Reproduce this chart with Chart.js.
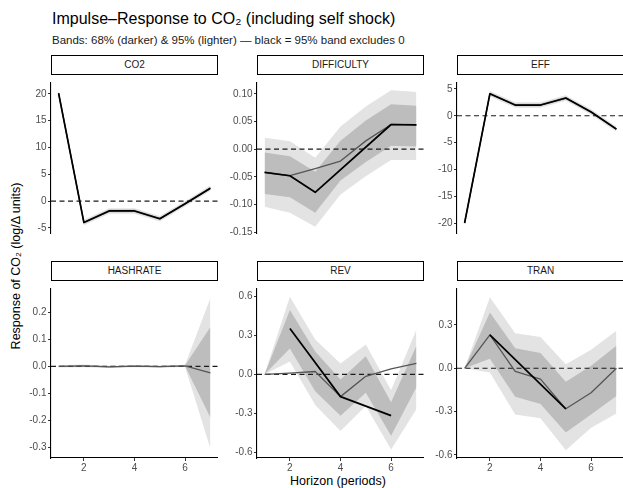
<!DOCTYPE html>
<html>
<head>
<meta charset="utf-8">
<script src="https://cdn.jsdelivr.net/npm/chart.js@4.4.1/dist/chart.umd.min.js"></script>
<style>
  html, body { margin: 0; padding: 0; background: #fff; }
  body { width: 623px; height: 488px; position: relative; overflow: hidden;
         font-family: 'Liberation Sans', Arial, sans-serif; color: #000; }
  .title { position: absolute; left: 52px; top: 10px; font-size: 16px; white-space: nowrap; }
  .subtitle { position: absolute; left: 52px; top: 34px; font-size: 11.5px; white-space: nowrap; color: #1a1a1a; }
  .strip { position: absolute; box-sizing: border-box; height: 20px; border: 1px solid #000;
           background: #fff; font-size: 10px; color: #1a1a1a; text-align: center; line-height: 18px; }
  .panel { position: absolute; }
  .ylab { position: absolute; left: 16px; top: 266px; transform: translate(-50%, -50%) rotate(-90deg);
          font-size: 12.5px; white-space: nowrap; }
  .xlab { position: absolute; left: 338px; top: 481px; transform: translate(-50%, -50%);
          font-size: 12.5px; white-space: nowrap; }
</style>
</head>
<body>
<div class="title">Impulse–Response to CO₂ (including self shock)</div>
<div class="subtitle">Bands: 68% (darker) &amp; 95% (lighter) — black = 95% band excludes 0</div>
<div class="ylab">Response of CO₂ (log/Δ units)</div>
<div class="xlab">Horizon (periods)</div>

<script>
// ---- data ----
const HORIZON = [1, 2, 3, 4, 5, 6, 7];
const X_TICKS = [2, 4, 6];
const FACETS = ['CO2', 'DIFFICULTY', 'EFF', 'HASHRATE', 'REV', 'TRAN'];

const CO2_IRF  = [20.1, -4.0, -1.85, -1.85, -3.3, -0.5, 2.4];
const CO2_SIG  = [20.1, -4.0, -1.85, -1.85, -3.3, -0.5, 2.4];
const CO2_LO95 = [19.6, -4.5, -2.35, -2.35, -3.8, -1.0, 1.9];
const CO2_HI95 = [20.6, -3.5, -1.35, -1.35, -2.8, 0.0, 2.9];
const CO2_LO68 = [19.85, -4.25, -2.1, -2.1, -3.55, -0.75, 2.15];
const CO2_HI68 = [20.35, -3.75, -1.6, -1.6, -3.05, -0.25, 2.65];
const CO2_TICKS = [-5, 0, 5, 10, 15, 20];

const DIFF_IRF  = [-0.042, -0.048, -0.035, -0.0215, 0.015, 0.0446, 0.044];
const DIFF_SIG  = [-0.042, -0.048, -0.078, null, null, 0.0446, 0.044];
const DIFF_LO95 = [-0.104, -0.115, -0.14, -0.082, -0.049, -0.0195, -0.0195];
const DIFF_HI95 = [0.0205, 0.0143, -0.0154, 0.041, 0.077, 0.1066, 0.1035];
const DIFF_LO68 = [-0.081, -0.087, -0.115, -0.0565, -0.023, 0.006, 0.005];
const DIFF_HI68 = [-0.006, -0.013, -0.041, 0.0154, 0.052, 0.081, 0.0785];
const DIFF_TICKS = [-0.15, -0.10, -0.05, 0, 0.05, 0.10];

const EFF_IRF  = [-20.0, 4.1, 2.0, 2.0, 3.3, 0.7, -2.5];
const EFF_SIG  = [-20.0, 4.1, 2.0, 2.0, 3.3, 0.7, -2.5];
const EFF_LO95 = [-20.5, 3.6, 1.5, 1.5, 2.8, 0.2, -3.0];
const EFF_HI95 = [-19.5, 4.6, 2.5, 2.5, 3.8, 1.2, -2.0];
const EFF_LO68 = [-20.25, 3.85, 1.75, 1.75, 3.05, 0.45, -2.75];
const EFF_HI68 = [-19.75, 4.35, 2.25, 2.25, 3.55, 0.95, -2.25];
const EFF_TICKS = [-20, -15, -10, -5, 0, 5];

const HASH_IRF  = [0, 0.002, -0.002, 0.001, -0.001, 0.002, -0.024];
const HASH_SIG  = [null, null, null, null, null, null, null];
const HASH_LO95 = [-0.004, -0.003, -0.006, -0.003, -0.005, -0.002, -0.304];
const HASH_HI95 = [0.004, 0.007, 0.002, 0.005, 0.003, 0.006, 0.253];
const HASH_LO68 = [-0.002, 0.0, -0.004, -0.001, -0.003, 0.0, -0.189];
const HASH_HI68 = [0.002, 0.004, 0.0, 0.003, 0.001, 0.004, 0.146];
const HASH_TICKS = [-0.3, -0.2, -0.1, 0, 0.1, 0.2];

const REV_IRF  = [0, 0.01, 0.022, -0.172, -0.015, 0.042, 0.084];
const REV_SIG  = [null, 0.354, null, -0.172, null, -0.319, null];
const REV_LO95 = [0, 0.1, -0.236, -0.437, -0.245, -0.58, -0.27];
const REV_HI95 = [0, 0.6, 0.27, 0.084, 0.231, -0.122, 0.344];
const REV_LO68 = [0, 0.2, -0.13, -0.319, -0.142, -0.474, -0.1];
const REV_HI68 = [0, 0.497, 0.177, -0.039, 0.14, -0.216, 0.221];
const REV_TICKS = [-0.6, -0.3, 0, 0.3, 0.6];

const TRAN_IRF  = [0, 0.232, -0.022, -0.075, -0.281, -0.17, 0];
const TRAN_SIG  = [null, 0.232, null, null, -0.281, null, null];
const TRAN_LO95 = [0, -0.03, -0.32, -0.347, -0.568, -0.413, -0.314];
const TRAN_HI95 = [0, 0.492, 0.243, 0.216, 0.028, 0.128, 0.26];
const TRAN_LO68 = [0, 0.066, -0.197, -0.248, -0.446, -0.32, -0.192];
const TRAN_HI68 = [0, 0.386, 0.139, 0.106, -0.093, 0.017, 0.156];
const TRAN_TICKS = [-0.6, -0.3, 0, 0.3];

// ---- per-facet scale settings ----
const Y_MIN = [-5.96, -0.1515, -21.86, -0.339, -0.646, -0.622];
const Y_MAX = [22.1, 0.1205, 6.2, 0.288, 0.663, 0.553];
const Y_DECIMALS = [0, 2, 0, 1, 1, 1];

const SERIES = [
	{ irf: CO2_IRF,  sig: CO2_SIG,  lo95: CO2_LO95,  hi95: CO2_HI95,  lo68: CO2_LO68,  hi68: CO2_HI68,  ticks: CO2_TICKS },
	{ irf: DIFF_IRF, sig: DIFF_SIG, lo95: DIFF_LO95, hi95: DIFF_HI95, lo68: DIFF_LO68, hi68: DIFF_HI68, ticks: DIFF_TICKS },
	{ irf: EFF_IRF,  sig: EFF_SIG,  lo95: EFF_LO95,  hi95: EFF_HI95,  lo68: EFF_LO68,  hi68: EFF_HI68,  ticks: EFF_TICKS },
	{ irf: HASH_IRF, sig: HASH_SIG, lo95: HASH_LO95, hi95: HASH_HI95, lo68: HASH_LO68, hi68: HASH_HI68, ticks: HASH_TICKS },
	{ irf: REV_IRF,  sig: REV_SIG,  lo95: REV_LO95,  hi95: REV_HI95,  lo68: REV_LO68,  hi68: REV_HI68,  ticks: REV_TICKS },
	{ irf: TRAN_IRF, sig: TRAN_SIG, lo95: TRAN_LO95, hi95: TRAN_HI95, lo68: TRAN_LO68, hi68: TRAN_HI68, ticks: TRAN_TICKS },
];

// ---- layout ----
const PANEL_LEFT = [51, 257, 457];
const PANEL_W = 167;
const STRIP_TOP = [55, 261];
const STRIP_H = 20;
const PANEL_H = [178, 177];
const AXIS_W = 40;
const XAXIS_H = 20;

const LIGHT = '#e3e3e3';
const DARK = '#bdbdbd';
const TICK_FONT = { family: "'Liberation Sans Narrow', 'Liberation Sans', Arial, sans-serif", size: 10 };

const zeroLine = {
	id: 'zeroLine',
	afterDatasetDraw(chart, args) {
		if (chart.data.datasets[args.index].id !== 'lo68') return;
		const { ctx, chartArea, scales } = chart;
		const py = scales.y.getPixelForValue(0);
		ctx.save();
		ctx.beginPath();
		ctx.setLineDash([5, 3.5]);
		ctx.lineWidth = 1.2;
		ctx.strokeStyle = '#1a1a1a';
		ctx.moveTo(chartArea.left, py);
		ctx.lineTo(chartArea.right, py);
		ctx.stroke();
		ctx.restore();
	}
};

function pts(arr) {
	return HORIZON.map((h, i) => ({ x: h, y: arr[i] }));
}

FACETS.forEach((name, k) => {
	const row = Math.floor(k / 3), col = k % 3;
	const s = SERIES[k];
	const bottomRow = row === 1;

	const strip = document.createElement('div');
	strip.className = 'strip';
	strip.textContent = name;
	strip.style.left = PANEL_LEFT[col] + 'px';
	strip.style.top = STRIP_TOP[row] + 'px';
	strip.style.width = PANEL_W + 'px';
	document.body.appendChild(strip);

	const box = document.createElement('div');
	box.className = 'panel';
	box.style.left = (PANEL_LEFT[col] - AXIS_W) + 'px';
	box.style.top = (STRIP_TOP[row] + STRIP_H) + 'px';
	box.style.width = (AXIS_W + PANEL_W) + 'px';
	box.style.height = (PANEL_H[row] + (bottomRow ? XAXIS_H : 0)) + 'px';
	const canvas = document.createElement('canvas');
	box.appendChild(canvas);
	document.body.appendChild(box);

	const band = { borderColor: 'rgba(0,0,0,0)', borderWidth: 0, pointRadius: 0 };

	new Chart(canvas, {
		type: 'line',
		data: {
			datasets: [
				{ ...band, id: 'hi95', data: pts(s.hi95), fill: '+1', backgroundColor: LIGHT, order: 5 },
				{ ...band, id: 'lo95', data: pts(s.lo95), fill: false, order: 4 },
				{ ...band, id: 'hi68', data: pts(s.hi68), fill: '+1', backgroundColor: DARK, order: 3 },
				{ ...band, id: 'lo68', data: pts(s.lo68), fill: false, order: 2 },
				{ id: 'irf', data: pts(s.irf), borderColor: '#555', borderWidth: 1.3, pointRadius: 0, fill: false, order: 1 },
				{ id: 'sig', data: pts(s.sig), borderColor: '#000', borderWidth: 1.7, pointRadius: 0, fill: false, spanGaps: true, order: 0 },
			]
		},
		options: {
			animation: false,
			responsive: true,
			maintainAspectRatio: false,
			events: [],
			layout: { padding: 0, autoPadding: false },
			plugins: { legend: { display: false }, tooltip: { enabled: false } },
			elements: { line: { tension: 0, borderJoinStyle: 'round' } },
			scales: {
				x: {
					type: 'linear',
					min: 0.7,
					max: 7.3,
					display: bottomRow,
					afterFit(sc) { sc.height = XAXIS_H; },
					afterBuildTicks(sc) { sc.ticks = X_TICKS.map(v => ({ value: v })); },
					ticks: { color: '#4d4d4d', font: TICK_FONT, padding: 1, maxRotation: 0 },
					grid: { display: true, drawOnChartArea: false, drawTicks: true, tickLength: 3, color: '#333', lineWidth: 1 },
					border: { display: true, color: '#000', width: 1.1 },
				},
				y: {
					type: 'linear',
					min: Y_MIN[k],
					max: Y_MAX[k],
					afterFit(sc) { sc.width = AXIS_W; },
					afterBuildTicks(sc) { sc.ticks = s.ticks.map(v => ({ value: v })); },
					ticks: {
						color: '#4d4d4d',
						font: TICK_FONT,
						padding: 1.5,
						callback: v => v.toFixed(Y_DECIMALS[k]),
					},
					grid: { display: true, drawOnChartArea: false, drawTicks: true, tickLength: 3, color: '#333', lineWidth: 1 },
					border: { display: true, color: '#000', width: 1.1 },
				},
			},
		},
		plugins: [zeroLine],
	});
});
</script>
</body>
</html>
